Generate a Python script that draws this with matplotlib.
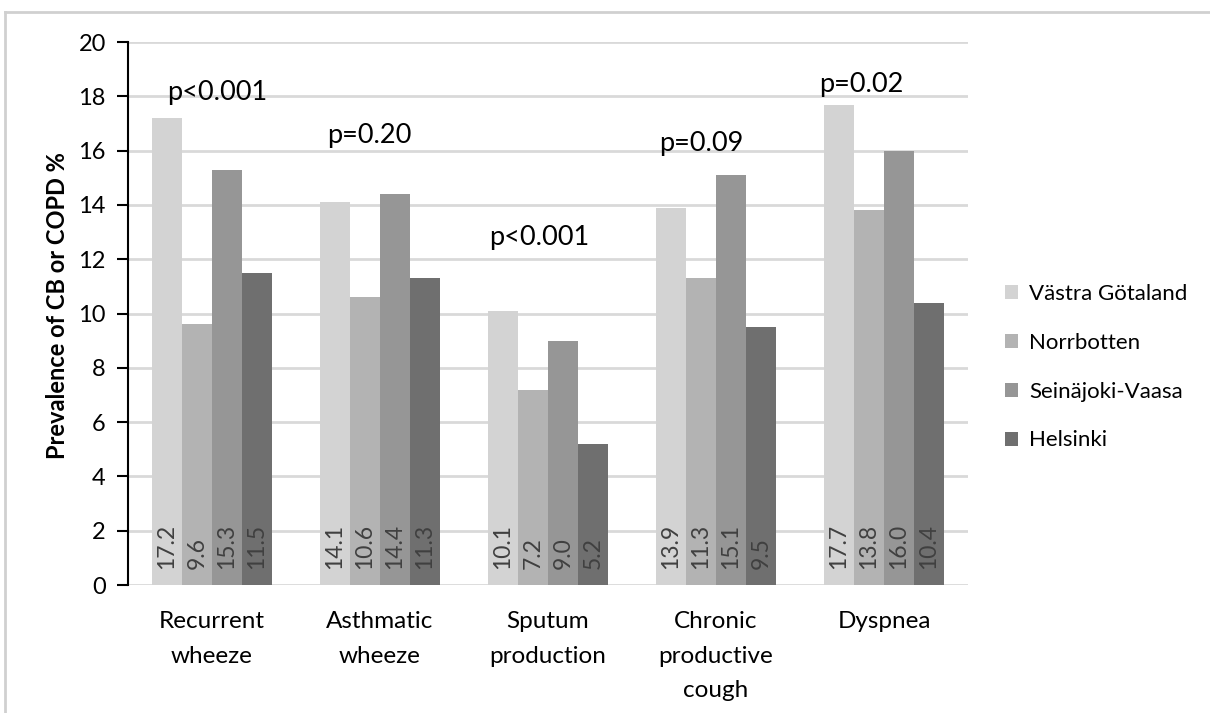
import matplotlib
matplotlib.use("Agg")
import matplotlib.pyplot as plt
from matplotlib.lines import Line2D
import numpy as np

categories = ["Recurrent\nwheeze", "Asthmatic\nwheeze", "Sputum\nproduction",
              "Chronic\nproductive\ncough", "Dyspnea"]
regions = ["Västra Götaland", "Norrbotten", "Seinäjoki-Vaasa", "Helsinki"]
vastra = [17.2, 14.1, 10.1, 13.9, 17.7]
norrbotten = [9.6, 10.6, 7.2, 11.3, 13.8]
seinajoki = [15.3, 14.4, 9.0, 15.1, 16.0]
helsinki = [11.5, 11.3, 5.2, 9.5, 10.4]
p_values = ["p<0.001", "p=0.20", "p<0.001", "p=0.09", "p=0.02"]
yticks = [0, 2, 4, 6, 8, 10, 12, 14, 16, 18, 20]

series = [vastra, norrbotten, seinajoki, helsinki]
colors = ["#d3d3d3", "#b3b3b3", "#969696", "#6f6f6f"]

# annotation placement (left edge offset from category, baseline height)
p_xoff = [-0.268, -0.315, -0.351, -0.339, -0.387]
p_y = [17.86, 16.28, 12.52, 15.98, 18.16]

plt.rcParams['font.family'] = ['Lato', 'DejaVu Sans']

fig = plt.figure(figsize=(12.1, 7.13), dpi=100)
ax = fig.add_axes([0.1058, 0.1795, 0.8 - 0.1058, 0.941 - 0.1795])

x = np.arange(len(categories))
bw = 0.1786
for i, (vals, col, name) in enumerate(zip(series, colors, regions)):
    pos = x + (i - 1.5) * bw
    ax.bar(pos, vals, width=bw, color=col, label=name, zorder=3)
    for xp, v in zip(pos, vals):
        ax.text(xp, 0.6, f"{v:.1f}", rotation=90, ha='center', va='bottom',
                fontsize=16.5, color='#404040', zorder=4)

for xi, off, yy, txt in zip(x, p_xoff, p_y, p_values):
    ax.text(xi + off, yy, txt, ha='left', va='baseline', fontsize=19.5,
            color='black', zorder=5)

ax.set_xlim(-0.5, len(categories) - 0.5)
ax.set_ylim(0, 20)
ax.set_yticks(yticks)
ax.set_xticks(x)
ax.set_xticklabels(categories, fontsize=17.5, linespacing=1.78, va='top')
ax.tick_params(axis='x', length=0, pad=19)
ax.tick_params(axis='y', labelsize=17, length=8, width=1.5, direction='out', pad=8,
               color='black')
ax.yaxis.grid(True, color='#d9d9d9', linewidth=2, zorder=0)
ax.set_axisbelow(True)
for s in ['top', 'right', 'bottom']:
    ax.spines[s].set_visible(False)
ax.spines['left'].set_linewidth(1.5)
ax.spines['left'].set_zorder(6)

ax.set_ylabel("Prevalence of CB or COPD %", fontsize=17, fontweight='bold')
ax.yaxis.set_label_coords(-0.07, 0.514)

fig.legend(loc='upper left', bbox_to_anchor=(0.814, 0.63), frameon=False,
           fontsize=16, handlelength=0.6, handleheight=0.6, handletextpad=0.5,
           labelspacing=1.3)

# outer border lines
fig.add_artist(Line2D([5 / 1210, 5 / 1210], [0, 1 - 12 / 713], transform=fig.transFigure,
                      color='#d0d0d0', linewidth=2))
fig.add_artist(Line2D([5 / 1210, 1], [1 - 12 / 713, 1 - 12 / 713], transform=fig.transFigure,
                      color='#d0d0d0', linewidth=2))

fig.savefig("out.png", dpi=100)
